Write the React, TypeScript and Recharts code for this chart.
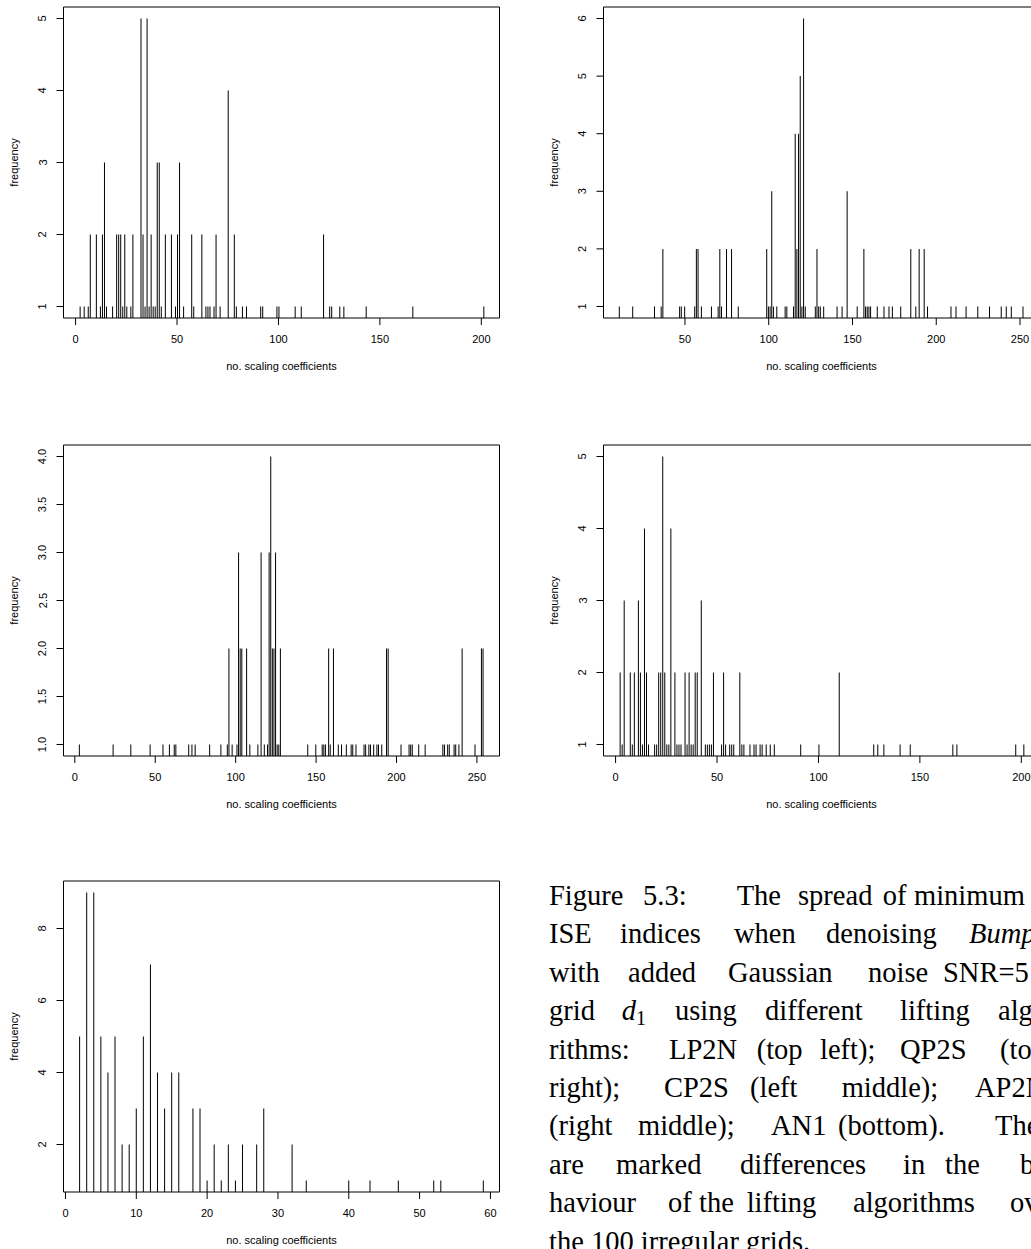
import React from 'react';
import { ComposedChart, Bar, XAxis, YAxis, ReferenceArea } from 'recharts';

// ---- LP2N (top left)
const lp2nX = [2, 4, 6, 7, 10, 12, 13, 14, 15, 18, 20, 21, 22, 23, 24, 25, 27, 28, 32, 33, 34, 35, 36, 37, 38, 39, 40, 41, 42, 44, 47, 49, 50, 51, 53, 57, 58, 62, 64, 65, 66, 68, 69, 71, 75, 78, 79, 82, 84, 91, 92, 99, 100, 108, 111, 122, 125, 126, 130, 132, 143, 166, 201];
const lp2nF = [1, 1, 1, 2, 2, 1, 2, 3, 1, 1, 2, 2, 2, 1, 2, 1, 1, 2, 5, 2, 1, 5, 1, 2, 1, 1, 3, 3, 1, 2, 2, 1, 2, 3, 1, 2, 1, 2, 1, 1, 1, 1, 2, 1, 4, 2, 1, 1, 1, 1, 1, 1, 1, 1, 1, 2, 1, 1, 1, 1, 1, 1, 1];

// ---- QP2S (top right)
const qp2sX = [11, 19, 32, 36, 37, 47, 48, 50, 56, 57, 58, 60, 66, 70, 71, 72, 75, 78, 82, 99, 100, 101, 102, 103, 105, 110, 111, 115, 116, 117, 118, 119, 120, 121, 122, 128, 129, 130, 131, 133, 141, 144, 147, 153, 157, 158, 159, 160, 161, 165, 169, 172, 174, 179, 185, 188, 190, 193, 195, 209, 212, 218, 225, 232, 239, 242, 245, 252];
const qp2sF = [1, 1, 1, 1, 2, 1, 1, 1, 1, 2, 2, 1, 1, 1, 2, 1, 2, 2, 1, 2, 1, 1, 3, 1, 1, 1, 1, 1, 4, 2, 4, 5, 1, 6, 1, 1, 2, 1, 1, 1, 1, 1, 3, 1, 2, 1, 1, 1, 1, 1, 1, 1, 1, 1, 2, 1, 2, 2, 1, 1, 1, 1, 1, 1, 1, 1, 1, 1];

// ---- CP2S (left middle)
const cp2sX = [3, 24, 35, 47, 55, 59, 62, 63, 71, 73, 75, 84, 91, 95, 96, 98, 101, 102, 103, 104, 107, 109, 114, 116, 118, 120, 121, 122, 123, 124, 125, 126, 127, 128, 145, 150, 154, 155, 156, 158, 159, 161, 164, 166, 169, 172, 173, 175, 180, 181, 183, 184, 186, 188, 189, 191, 194, 195, 203, 208, 209, 210, 214, 218, 229, 230, 232, 233, 236, 237, 239, 241, 249, 253, 254];
const cp2sF = [1, 1, 1, 1, 1, 1, 1, 1, 1, 1, 1, 1, 1, 1, 2, 1, 1, 3, 2, 2, 2, 1, 1, 3, 1, 1, 3, 4, 2, 2, 3, 1, 1, 2, 1, 1, 1, 1, 1, 2, 1, 2, 1, 1, 1, 1, 1, 1, 1, 1, 1, 1, 1, 1, 1, 1, 2, 2, 1, 1, 1, 1, 1, 1, 1, 1, 1, 1, 1, 1, 1, 2, 1, 2, 2];

// ---- AP2 (right middle)
const ap2X = [2, 3, 4, 7, 8, 9, 11, 12, 13, 14, 15, 16, 19, 20, 21, 22, 23, 24, 25, 26, 27, 29, 30, 31, 32, 34, 35, 36, 37, 38, 39, 40, 42, 44, 45, 46, 47, 48, 52, 53, 54, 56, 57, 58, 61, 62, 63, 66, 68, 69, 71, 72, 74, 76, 78, 91, 100, 110, 127, 129, 132, 140, 145, 166, 168, 197, 201];
const ap2F = [2, 1, 3, 2, 1, 2, 3, 2, 1, 4, 2, 1, 1, 1, 2, 2, 5, 2, 1, 1, 4, 2, 1, 1, 1, 2, 1, 2, 1, 1, 2, 2, 3, 1, 1, 1, 1, 2, 1, 2, 1, 1, 1, 1, 2, 1, 1, 1, 1, 1, 1, 1, 1, 1, 1, 1, 1, 2, 1, 1, 1, 1, 1, 1, 1, 1, 1];

// ---- AN1 (bottom)
const an1X = [2, 3, 4, 5, 6, 7, 8, 9, 10, 11, 12, 13, 14, 15, 16, 18, 19, 20, 21, 22, 23, 24, 25, 27, 28, 32, 34, 40, 43, 47, 52, 53, 59];
const an1F = [5, 9, 9, 5, 4, 5, 2, 2, 3, 5, 7, 4, 3, 4, 4, 3, 3, 1, 2, 1, 2, 1, 2, 2, 3, 2, 1, 1, 1, 1, 1, 1, 1];

// ---- tick labels
const xTicks1 = [0, 50, 100, 150, 200];
const xTicks2 = [50, 100, 150, 200, 250];
const xTicks3 = [0, 50, 100, 150, 200, 250];
const xTicks4 = [0, 50, 100, 150, 200];
const xTicks5 = [0, 10, 20, 30, 40, 50, 60];
const yTicks1 = [1, 2, 3, 4, 5];
const yTicks2 = [1, 2, 3, 4, 5, 6];
const yTicks3 = [1, 1.5, 2, 2.5, 3, 3.5, 4];
const yTicks4 = [1, 2, 3, 4, 5];
const yTicks5 = [2, 4, 6, 8];

const xTitle = 'no. scaling coefficients';
const yTitle = 'frequency';

// ---- caption
const captionWords = [
  ['Figure', '5.3:', 'The', 'spread', 'of', 'minimum'],
  ['ISE', 'indices', 'when', 'denoising', '*Bumps'],
  ['with', 'added', 'Gaussian', 'noise', 'SNR=5'],
  ['grid', '#d1', 'using', 'different', 'lifting', 'algo-'],
  ['rithms:', 'LP2N', '(top', 'left);', 'QP2S', '(top'],
  ['right);', 'CP2S', '(left', 'middle);', 'AP2N'],
  ['(right', 'middle);', 'AN1', '(bottom).', 'There'],
  ['are', 'marked', 'differences', 'in', 'the', 'be-'],
  ['haviour', 'of', 'the', 'lifting', 'algorithms', 'over'],
  ['the 100 irregular grids.'],
];
const captionX = [
  [549, 643, 736.7, 798, 882.7, 914],
  [549, 620, 734, 826, 969],
  [549, 628, 728, 868, 943],
  [549, 621.7, 675, 765, 900, 998],
  [549, 669, 756.7, 820, 900, 1000],
  [549, 664, 750, 841.7, 975],
  [549, 638, 771, 838, 995],
  [549, 616, 740, 903, 945, 1020],
  [549, 668, 699, 746.7, 853, 1010],
  [549],
];

const FONT = '"Liberation Sans", Arial, Helvetica, sans-serif';
const FS = 11;

const PLOT_W = 436;
const PLOT_H = 311;
const Y_AXIS_W = 63.5;
const X_AXIS_H = 60;
const M_TOP = 10;
const M_RIGHT = 10;

function XTick(props: any) {
  const { x, y, payload } = props;
  return (
    <text x={x} y={y} textAnchor="middle" dominantBaseline="central" fontSize={FS} fontFamily={FONT} fill="#000">
      {payload.value}
    </text>
  );
}

function makeYTick(fmt: (v: number) => string) {
  return function YTick(props: any) {
    const { x, y, payload } = props;
    return (
      <text
        x={x}
        y={y}
        transform={`rotate(-90 ${x} ${y})`}
        textAnchor="middle"
        dominantBaseline="central"
        fontSize={FS}
        fontFamily={FONT}
        fill="#000"
      >
        {fmt(payload.value)}
      </text>
    );
  };
}

function Panel(props: {
  left: number;
  top: number;
  xs: number[];
  fs: number[];
  xDomain: [number, number];
  yDomain: [number, number];
  xTicks: number[];
  yTicks: number[];
  fmt?: (v: number) => string;
}) {
  const { left, top, xs, fs, xDomain, yDomain, xTicks, yTicks } = props;
  const fmt = props.fmt || ((v: number) => String(v));
  const data = xs.map((x, i) => ({ x, f: fs[i] }));
  const YTick = makeYTick(fmt);
  const xLabel = (p: any) => {
    const vb = p && p.viewBox ? p.viewBox : { x: Y_AXIS_W, y: M_TOP + PLOT_H, width: PLOT_W, height: X_AXIS_H };
    return (
      <text x={vb.x + vb.width / 2} y={vb.y + 48} textAnchor="middle" dominantBaseline="central" fontSize={FS} fontFamily={FONT} fill="#000">
        {xTitle}
      </text>
    );
  };
  const yLabel = (p: any) => {
    const vb = p && p.viewBox ? p.viewBox : { x: 0, y: M_TOP, width: Y_AXIS_W, height: PLOT_H };
    const cx = vb.x + vb.width - 49.5;
    const cy = vb.y + vb.height / 2;
    return (
      <text x={cx} y={cy} transform={`rotate(-90 ${cx} ${cy})`} textAnchor="middle" dominantBaseline="central" fontSize={FS} fontFamily={FONT} fill="#000">
        {yTitle}
      </text>
    );
  };
  return (
    <div style={{ position: 'absolute', left, top }}>
      <ComposedChart
        width={Y_AXIS_W + PLOT_W + M_RIGHT}
        height={M_TOP + PLOT_H + X_AXIS_H}
        data={data}
        margin={{ top: M_TOP, right: M_RIGHT, bottom: 0, left: 0 }}
      >
        <XAxis
          dataKey="x"
          type="number"
          domain={xDomain}
          allowDataOverflow
          ticks={xTicks}
          interval={0}
          tickSize={7}
          tickMargin={14}
          axisLine={false}
          tickLine={{ stroke: '#000', strokeWidth: 1 }}
          tick={<XTick />}
          height={X_AXIS_H}
          label={xLabel}
        />
        <YAxis
          type="number"
          domain={yDomain}
          allowDataOverflow
          ticks={yTicks}
          interval={0}
          tickSize={7}
          tickMargin={14}
          axisLine={false}
          tickLine={{ stroke: '#000', strokeWidth: 1 }}
          tick={<YTick />}
          width={Y_AXIS_W}
          label={yLabel}
        />
        <ReferenceArea
          x1={xDomain[0]}
          x2={xDomain[1]}
          y1={yDomain[0]}
          y2={yDomain[1]}
          fill="none"
          fillOpacity={0}
          stroke="#000"
          strokeOpacity={1}
          strokeWidth={1}
          ifOverflow="visible"
        />
        <Bar dataKey="f" fill="#000" barSize={1} isAnimationActive={false} />
      </ComposedChart>
    </div>
  );
}

function CaptionWord({ w, x, y }: { w: string; x: number; y: number }) {
  if (w.startsWith('*')) {
    return (
      <text x={x} y={y} fontStyle="italic">
        {w.slice(1)}
      </text>
    );
  }
  if (w.startsWith('#')) {
    return (
      <text x={x} y={y}>
        <tspan fontStyle="italic">{w.slice(1, 2)}</tspan>
        <tspan fontSize={20} dy={5}>
          {w.slice(2)}
        </tspan>
      </text>
    );
  }
  return (
    <text x={x} y={y} style={{ whiteSpace: 'pre' }}>
      {w}
    </text>
  );
}

export default function App() {
  const fmt1 = (v: number) => v.toFixed(1);
  return (
    <div style={{ position: 'absolute', left: 0, top: 0, width: 1031, height: 1249, overflow: 'hidden', background: '#fff' }}>
      <Panel left={0} top={-3.5} xs={lp2nX} fs={lp2nF} xDomain={[-5.96, 208.96]} yDomain={[0.84, 5.16]} xTicks={xTicks1} yTicks={yTicks1} />
      <Panel left={540} top={-3.5} xs={qp2sX} fs={qp2sF} xDomain={[1.36, 261.64]} yDomain={[0.8, 6.2]} xTicks={xTicks2} yTicks={yTicks2} />
      <Panel left={0} top={434.5} xs={cp2sX} fs={cp2sF} xDomain={[-7.04, 264.04]} yDomain={[0.88, 4.12]} xTicks={xTicks3} yTicks={yTicks3} fmt={fmt1} />
      <Panel left={540} top={434.5} xs={ap2X} fs={ap2F} xDomain={[-5.96, 208.96]} yDomain={[0.84, 5.16]} xTicks={xTicks4} yTicks={yTicks4} />
      <Panel left={0} top={870.5} xs={an1X} fs={an1F} xDomain={[-0.28, 61.28]} yDomain={[0.68, 9.32]} xTicks={xTicks5} yTicks={yTicks5} />
      <svg width={1031} height={1249} style={{ position: 'absolute', left: 0, top: 0, pointerEvents: 'none' }}>
        <g fontFamily='"Liberation Serif", "Times New Roman", serif' fontSize={28.5} fill="#000">
          {captionWords.map((line, i) =>
            line.map((w, j) => <CaptionWord key={`${i}-${j}`} w={w} x={captionX[i][j]} y={905 + i * 38.4} />)
          )}
        </g>
      </svg>
    </div>
  );
}
